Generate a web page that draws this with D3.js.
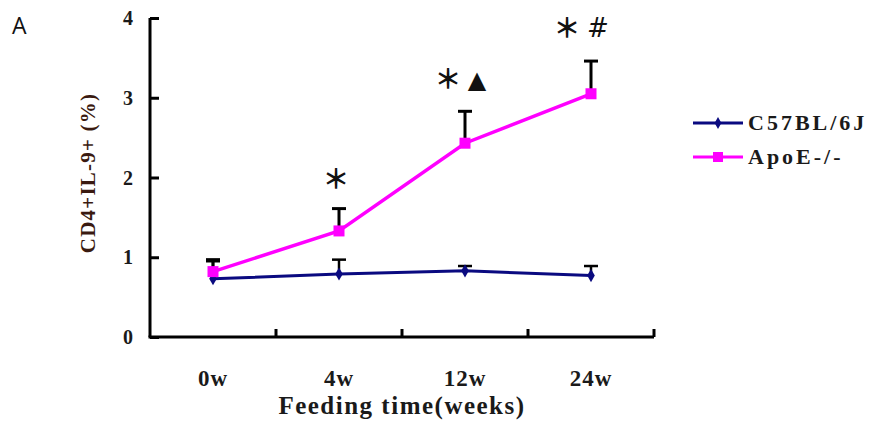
<!DOCTYPE html>
<html><head><meta charset="utf-8">
<script src="https://cdn.jsdelivr.net/npm/d3@7"></script>
<style>body{margin:0;background:#fff}svg{display:block}</style>
</head><body>
<svg id="c" width="878" height="430"></svg>
<script>
const categories = ["0w","4w","12w","24w"];
const seriesNames = ["C57BL/6J","ApoE-/-"];
const c57Values = [0.73,0.79,0.83,0.77];
const c57ErrTop = [0.95,0.97,0.89,0.89];
const apoeValues = [0.82,1.33,2.43,3.05];
const apoeErrTop = [0.97,1.61,2.83,3.46];
const yTicks = [0,1,2,3,4];
const annotations = [
  {cat:"4w", marks:["＊"]},
  {cat:"12w", marks:["＊","▲"]},
  {cat:"24w", marks:["＊","#"]}
];
const annotationLevel = [0, 1.98, 3.23, 3.88];

const svg = d3.select("#c");
const serif = "'Liberation Serif','Times New Roman',serif";
const x = d3.scaleBand().domain(categories).range([150,654]);
const y = d3.scaleLinear().domain([0,4]).range([337,18]);
const cx = d => x(d)+x.bandwidth()/2;

// panel label
svg.append("text").attr("x",12).attr("y",34).attr("font-family","'Open Sans',sans-serif")
  .attr("font-size",23).attr("fill","#111").text("A");

// y axis
const ya = svg.append("g").attr("transform","translate(150,0)")
  .call(d3.axisRight(y).tickValues(yTicks).tickSize(9).tickFormat(""));
ya.select(".domain").attr("d",`M0,${y(4)}V${y(0)}`);
ya.selectAll("path,line").attr("stroke","#000").attr("stroke-width",3);
svg.append("g").selectAll("text").data(yTicks).join("text")
  .attr("x",133).attr("y",d=>y(d)+7).attr("text-anchor","end")
  .attr("font-family",serif).attr("font-weight","bold").attr("font-size",20)
  .attr("fill","#1a1a1a").text(d=>d);

// x axis
const xa = svg.append("g").attr("transform","translate(0,337)")
  .call(d3.axisBottom(x).tickSize(0).tickFormat(""));
xa.select(".domain").attr("d","M148.5,0H654").attr("stroke","#000").attr("stroke-width",3);
xa.selectAll(".tick").remove();
xa.selectAll("line.b").data(categories.slice(1).concat(["end"])).join("line")
  .attr("x1",(d,i)=>i<3?x(d):654).attr("x2",(d,i)=>i<3?x(d):654)
  .attr("y1",0).attr("y2",-8).attr("stroke","#000").attr("stroke-width",3);
svg.append("g").selectAll("text").data(categories).join("text")
  .attr("x",d=>cx(d)).attr("y",386).attr("text-anchor","middle")
  .attr("font-family",serif).attr("font-weight","bold").attr("font-size",23)
  .attr("letter-spacing",1).attr("fill","#1a1a1a").text(d=>d);
svg.append("text").attr("x",402).attr("y",414).attr("text-anchor","middle")
  .attr("font-family",serif).attr("font-weight","bold").attr("font-size",25)
  .attr("letter-spacing",1.5).attr("fill","#1a1a1a").text("Feeding time(weeks)");
svg.append("text").attr("transform","translate(95,173) rotate(-90)").attr("text-anchor","middle")
  .attr("font-family",serif).attr("font-weight","bold").attr("font-size",21)
  .attr("letter-spacing",1.2).attr("fill","#3a1a10").text("CD4+IL-9+ (%)");

// error bars
function errBars(vals, tops, w){
  const g = svg.append("g").attr("stroke","#000").attr("stroke-width",w);
  categories.forEach((c,i)=>{
    g.append("line").attr("x1",cx(c)).attr("x2",cx(c)).attr("y1",y(vals[i])).attr("y2",y(tops[i]));
    g.append("line").attr("x1",cx(c)-7).attr("x2",cx(c)+7).attr("y1",y(tops[i])).attr("y2",y(tops[i]));
  });
}
errBars(c57Values, c57ErrTop, 2.5);
errBars(apoeValues, apoeErrTop, 3);

const line = d3.line().x((d,i)=>cx(categories[i])).y(d=>y(d));
svg.append("path").datum(c57Values).attr("d",line).attr("fill","none")
  .attr("stroke","#0a0a80").attr("stroke-width",3);
svg.append("g").selectAll("path").data(c57Values).join("path")
  .attr("d",d3.symbol(d3.symbolDiamond,50)).attr("fill","#0a0a80")
  .attr("transform",(d,i)=>`translate(${cx(categories[i])},${y(d)})`);
svg.append("path").datum(apoeValues).attr("d",line).attr("fill","none")
  .attr("stroke","#ff00ff").attr("stroke-width",3.5);
svg.append("g").selectAll("rect").data(apoeValues).join("rect")
  .attr("x",(d,i)=>cx(categories[i])-5.5).attr("y",d=>y(d)-5.5)
  .attr("width",11).attr("height",11).attr("fill","#ff00ff");

// annotations (offsets are drawing layout, not data)
const markOffsets = {"4w":[-3],"12w":[-17,12],"24w":[-24,7]};
annotations.forEach(a=>{
  const i = categories.indexOf(a.cat);
  const yy = y(annotationLevel[i]);
  a.marks.forEach((m,j)=>{
    const isStar = m==="＊";
    svg.append("text").attr("x",cx(a.cat)+markOffsets[a.cat][j]).attr("y",yy+(isStar?10:9))
      .attr("text-anchor","middle")
      .attr("font-family",isStar?"'Noto Sans CJK SC',sans-serif":"'DejaVu Sans',sans-serif")
      .attr("font-weight",isStar?"bold":"normal")
      .attr("font-style",m==="#"?"italic":"normal")
      .attr("font-size",isStar?27:(m==="▲"?24:26)).attr("fill","#111").text(m);
  });
});

// legend
const leg = svg.append("g");
const legY = [123,157];
const legColor = ["#0a0a80","#ff00ff"];
seriesNames.forEach((n,i)=>{
  leg.append("line").attr("x1",693).attr("x2",743).attr("y1",legY[i]).attr("y2",legY[i])
    .attr("stroke",legColor[i]).attr("stroke-width",3);
  if(i===0) leg.append("path").attr("d",d3.symbol(d3.symbolDiamond,40)).attr("fill",legColor[i])
    .attr("transform",`translate(718,${legY[i]})`);
  else leg.append("rect").attr("x",713).attr("y",legY[i]-5).attr("width",10).attr("height",10).attr("fill",legColor[i]);
  leg.append("text").attr("x",748).attr("y",legY[i]+7).attr("font-family",serif)
    .attr("font-weight","bold").attr("font-size",22).attr("letter-spacing",3)
    .attr("fill","#1a1a1a").text(n);
});
</script>
</body></html>
